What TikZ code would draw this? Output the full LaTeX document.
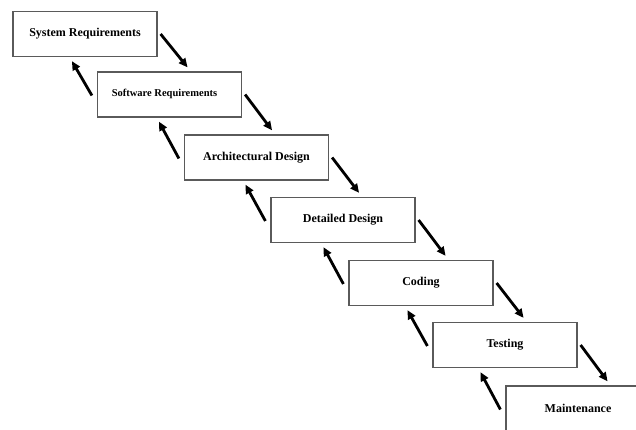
\documentclass[tikz,border=0pt]{standalone}
\usepackage{fontspec}
\setmainfont{Liberation Serif}
\usepackage{tikz}
\usetikzlibrary{arrows.meta, calc}
\definecolor{boxline}{HTML}{5A5A5A}

\begin{document}
\begin{tikzpicture}[
    x=1pt, y=-1pt,
    phase/.style = {rectangle, draw=boxline, line width=1.2pt, fill=white,
                    minimum width=144pt, minimum height=45pt, inner sep=0pt,
                    font=\fontsize{12}{14}\selectfont\bfseries},
    fwd/.style = {-{Triangle[length=9pt, width=8pt]}, line width=2.8pt},
    back/.style = {-{Triangle[length=9pt, width=8pt]}, line width=2.8pt}
  ]
  \clip (0,0) rectangle (636,430);

  \node[phase] (sysreq) at (85,34)    {System Requirements};
  \node[phase, font=\fontsize{10.5}{12}\selectfont\bfseries]
               (swreq)  at (169.5,94.5) {\raisebox{4pt}{Software Requirements\hspace{10pt}}};
  \node[phase] (arch)   at (256.5,157.5) {Architectural Design};
  \node[phase] (detail) at (343,220)  {Detailed Design};
  \node[phase] (coding) at (421,283)  {Coding};
  \node[phase] (test)   at (505,345)  {Testing};
  \node[phase] (maint)  at (578,408.5) {Maintenance};

  % forward steps
  \foreach \a/\b in {sysreq/swreq, swreq/arch, arch/detail, detail/coding, coding/test, test/maint}
    \draw[fwd] ($(\a.east)+(3,0)$) -- ($(\a.east |- \b.north)+(30,-4)$);

  % feedback
  \foreach \a/\b in {sysreq/swreq, swreq/arch, arch/detail, detail/coding, coding/test, test/maint}
    \draw[back] ($(\b.west)+(-5,1)$) -- ($(\b.west |- \a.south)+(-25,4)$);
\end{tikzpicture}
\end{document}
